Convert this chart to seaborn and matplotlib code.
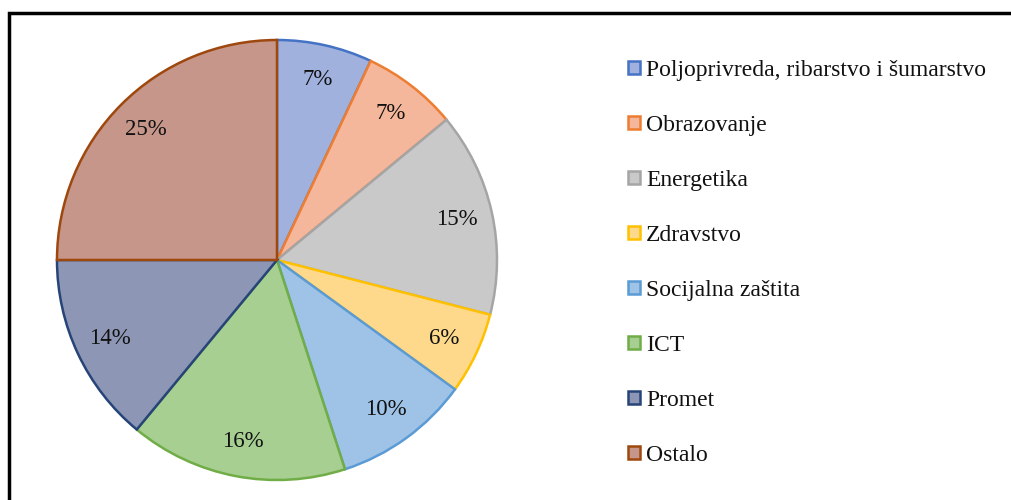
import numpy as np
import seaborn as sns
import matplotlib.pyplot as plt
from matplotlib.patches import Rectangle

sectors = ['Poljoprivreda, ribarstvo i šumarstvo', 'Obrazovanje', 'Energetika', 'Zdravstvo',
           'Socijalna zaštita', 'ICT', 'Promet', 'Ostalo']
shares = [7, 7, 15, 6, 10, 16, 14, 25]

fill_colors = ['#a0b1de', '#f5b79c', '#c9c9c9', '#fed98c', '#9fc3e7', '#a6cf91', '#8d97b5', '#c59689']
edge_colors = ['#4472c4', '#ed7d31', '#a5a5a5', '#ffc000', '#5b9bd5', '#70ad47', '#264478', '#9e480e']

sns.set_theme(style='white')
plt.rcParams['font.family'] = ['Liberation Serif', 'DejaVu Serif']

fig = plt.figure(figsize=(10.11, 5), dpi=100)
ax = fig.add_axes([52 / 1011, 15 / 500, 450 / 1011, 450 / 500])

wedges, texts, autotexts = ax.pie(
    shares, colors=fill_colors, startangle=90, counterclock=False,
    autopct='%1.0f%%', pctdistance=0.84,
    wedgeprops=dict(linewidth=1.8),
    textprops=dict(fontsize=16.5, color='#111111'))
for w, ec in zip(wedges, edge_colors):
    w.set_edgecolor(ec)
ax.set_xlim(-225 / 220, 225 / 220)
ax.set_ylim(-225 / 220, 225 / 220)
ax.set_aspect('equal')
ax.axis('off')

leg = fig.legend(wedges, sectors, loc='upper left', bbox_to_anchor=(607 / 1011, 1 - 39 / 500),
                 frameon=False, fontsize=17, handlelength=0.48, handleheight=0.48,
                 handletextpad=0.28, labelspacing=1.44, labelcolor='#111111')

# chart frame (only top and left edges visible in the crop)
fig.patches.append(Rectangle((9 / 1011, -0.1), 1.2, 1 - 13 / 500 + 0.1, transform=fig.transFigure,
                             fill=False, edgecolor='black', linewidth=2.5))

fig.savefig('out.png', dpi=100)
